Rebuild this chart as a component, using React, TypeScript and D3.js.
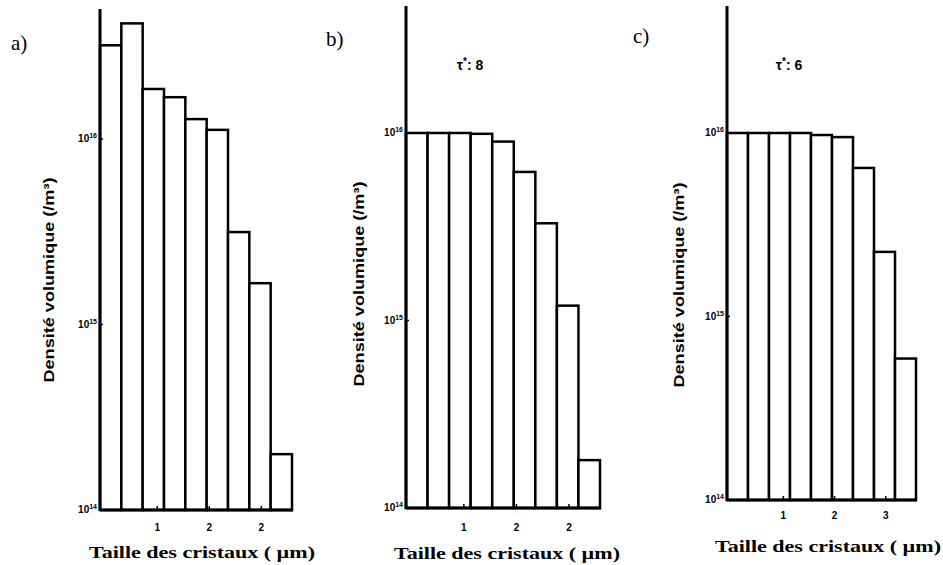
import React from "react";
import * as d3 from "d3";

// ---- data ----
const binIndex = [0, 1, 2, 3, 4, 5, 6, 7, 8];
const densityA = [3.2e16, 4.2e16, 1.86e16, 1.68e16, 1.28e16, 1.12e16, 3.15e15, 1.67e15, 2.0e14];
const densityB = [1.0e16, 1.0e16, 1.0e16, 0.99e16, 9.0e15, 6.2e15, 3.3e15, 1.2e15, 1.8e14];
const densityC = [1.0e16, 1.0e16, 1.0e16, 1.0e16, 0.975e16, 9.5e15, 6.45e15, 2.25e15, 5.9e14];
const yTickValues = [1e14, 1e15, 1e16];
const yTickExponents = ["14", "15", "16"];
const xTickValues = [1, 2, 3];
const xTickLabelsA = ["1", "2", "2"];
const xTickLabelsB = ["1", "2", "2"];
const xTickLabelsC = ["1", "2", "3"];
const panelLetters = ["a)", "b)", "c)"];
const tauValues = ["", "8", "6"];
const yTitle = "Densité volumique (/m³)";
const xTitle = "Taille des cristaux ( µm)";

// bin geometry in µm
const binStart = -0.1;
const binWidth = 0.41;

type Layout = {
  left: number; right: number; base: number; top16: number; axisTop: number;
  letterX: number; letterY: number; yTitleX: number; yTitleY: number;
  xTitleX: number; xTitleY: number; xTickY: number; tauX: number; tauY: number;
};

const layouts: Layout[] = [
  { left: 100, right: 292, base: 510, top16: 139, axisTop: 9, letterX: 11, letterY: 50, yTitleX: 50, yTitleY: 280, xTitleX: 202, xTitleY: 558, xTickY: 531, tauX: 0, tauY: 0 },
  { left: 406, right: 600, base: 508, top16: 133, axisTop: 6, letterX: 326, letterY: 46, yTitleX: 360, yTitleY: 284, xTitleX: 507, xTitleY: 559, xTickY: 531, tauX: 470, tauY: 70 },
  { left: 727, right: 916, base: 500, top16: 133, axisTop: 6, letterX: 633, letterY: 43, yTitleX: 680, yTitleY: 285, xTitleX: 828, xTitleY: 552, xTickY: 519, tauX: 789, tauY: 70 },
];

const panelData = [densityA, densityB, densityC];
const panelXLabels = [xTickLabelsA, xTickLabelsB, xTickLabelsC];

function Panel({ idx }: { idx: number }) {
  const L = layouts[idx];
  const values = panelData[idx];
  const xLabels = panelXLabels[idx];
  const x = d3.scaleLinear().domain([binStart, binStart + binIndex.length * binWidth]).range([L.left, L.right]);
  const y = d3.scaleLog().domain([1e14, 1e16]).range([L.base, L.top16]);
  const sans = "'Liberation Sans', Arial, sans-serif";
  const serif = "'Liberation Serif', 'Times New Roman', serif";
  return (
    <g>
      {binIndex.map((i) => {
        const x0 = x(binStart + i * binWidth);
        const x1 = x(binStart + (i + 1) * binWidth);
        const yt = y(values[i]);
        return (
          <rect key={i} x={x0} y={yt} width={x1 - x0} height={L.base - yt}
            fill="white" stroke="#000" strokeWidth={2.5} />
        );
      })}
      {/* y axis */}
      <line x1={L.left} x2={L.left} y1={L.axisTop} y2={L.base + 1} stroke="#000" strokeWidth={3} />
      {/* baseline */}
      <line x1={L.left} x2={L.right + 1} y1={L.base} y2={L.base} stroke="#000" strokeWidth={3.2} />
      {yTickValues.map((v, i) => (
        <g key={"yt" + i}>
          <line x1={L.left} x2={L.left + 3} y1={y(v)} y2={y(v)} stroke="#000" strokeWidth={1.5} />
          <text x={L.left - 3} y={y(v) + 3} textAnchor="end" fontFamily={sans} fontWeight="bold" fontSize={10}>
            10<tspan dy={-4} fontSize={7}>{yTickExponents[i]}</tspan>
          </text>
        </g>
      ))}
      {xTickValues.map((v, i) => (
        <g key={"xt" + i}>
          <line x1={x(v)} x2={x(v)} y1={L.base} y2={L.base - 4} stroke="#000" strokeWidth={1.5} />
          <text x={x(v)} y={L.xTickY} textAnchor="middle" fontFamily={sans} fontWeight="bold" fontSize={10}>{xLabels[i]}</text>
        </g>
      ))}
      <text x={L.letterX} y={L.letterY} fontFamily={serif} fontSize={21}>{panelLetters[idx]}</text>
      <text transform={`translate(${L.yTitleX},${L.yTitleY}) rotate(-90)`} textAnchor="middle"
        dominantBaseline="middle" fontFamily={sans} fontWeight="bold" fontSize={15}
        textLength={205} lengthAdjust="spacingAndGlyphs">{yTitle}</text>
      <text x={L.xTitleX} y={L.xTitleY} textAnchor="middle" fontFamily={serif} fontWeight="bold" fontSize={17}
        textLength={226} lengthAdjust="spacingAndGlyphs">{xTitle}</text>
      {tauValues[idx] !== "" && (
        <text x={L.tauX} y={L.tauY} textAnchor="middle" fontFamily={sans} fontWeight="bold" fontSize={14}>
          τ<tspan dy={-5} fontSize={10}>*</tspan><tspan dy={5}>: {tauValues[idx]}</tspan>
        </text>
      )}
    </g>
  );
}

export default function App() {
  return (
    <svg width={943} height={565} style={{ position: "absolute", left: 0, top: 0, background: "#fff" }}>
      <rect width={943} height={565} fill="#fff" />
      {[0, 1, 2].map((i) => <Panel key={i} idx={i} />)}
    </svg>
  );
}
